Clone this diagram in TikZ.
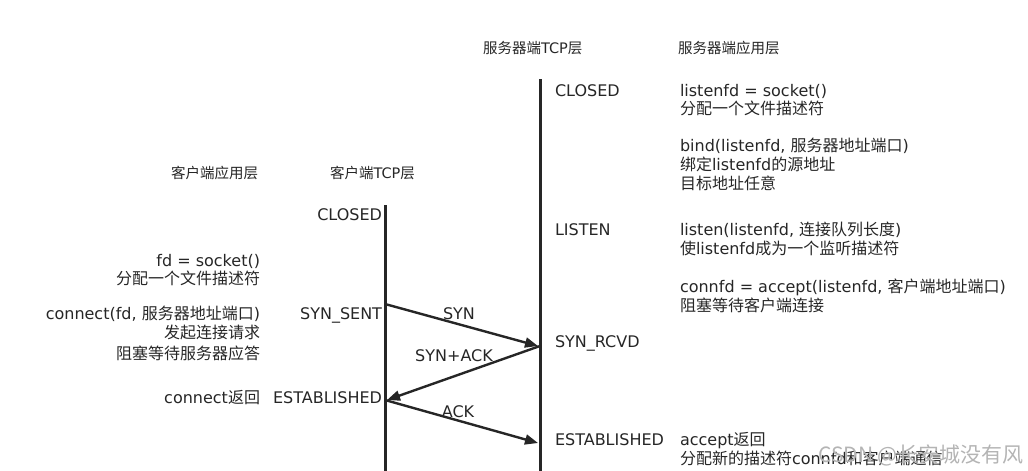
\documentclass[tikz,border=0pt]{standalone}
\usepackage{fontspec}
\setmainfont{DejaVu Sans}
\newfontfamily\cjk{Noto Sans CJK SC}
\newcommand\zh[1]{{\cjk #1}}
\usetikzlibrary{arrows.meta}
\definecolor{ink}{HTML}{262626}
\definecolor{wm}{HTML}{B4B4B4}
\tikzset{
  txt/.style={inner sep=0pt, outer sep=0pt, text=ink, font=\fontsize{16}{19}\selectfont},
  hdr/.style={txt, font=\fontsize{14.5}{17}\selectfont},
  lt/.style={anchor=base west},
  rt/.style={anchor=base east},
  ct/.style={anchor=base},
  lifeline/.style={draw=ink, line width=3pt},
  msg/.style={draw=ink, line width=2.4pt, -{Triangle[length=13pt,width=10pt]}}
}
\begin{document}
\begin{tikzpicture}[x=1pt, y=-1pt]
\useasboundingbox (0,0) rectangle (1028,471);
% headers
\node[hdr, lt] (hsTCP) at (483,53) {\zh{服务器端}TCP\zh{层}};
\node[hdr, lt] (hsApp) at (678,53) {\zh{服务器端应用层}};
\node[hdr, rt] (hcApp) at (258,178) {\zh{客户端应用层}};
\node[hdr, lt] (hcTCP) at (330,178) {\zh{客户端}TCP\zh{层}};
% lifelines
\coordinate (cTop) at (385,205);
\coordinate (cBot) at (385,471);
\coordinate (sTop) at (540,79);
\coordinate (sBot) at (540,471);
\draw[lifeline] (cTop) -- (cBot);
\draw[lifeline] (sTop) -- (sBot);
% server TCP states
\node[txt, lt] (sClosed) at (555,96) {CLOSED};
\node[txt, lt] (sListen) at (555,235) {LISTEN};
\node[txt, lt] (sRcvd) at (555,347) {SYN\_RCVD};
\node[txt, lt] (sEst) at (555,445) {ESTABLISHED};
% server app
\node[txt, lt] (sa1) at (680,96) {listenfd = socket()};
\node[txt, lt] (sa2) at (680,114) {\zh{分配一个文件描述符}};
\node[txt, lt] (sa3) at (680,151) {bind(listenfd, \zh{服务器地址端口})};
\node[txt, lt] (sa4) at (680,170) {\zh{绑定}listenfd\zh{的源地址}};
\node[txt, lt] (sa5) at (680,189) {\zh{目标地址任意}};
\node[txt, lt] (sa6) at (680,235) {listen(listenfd, \zh{连接队列长度})};
\node[txt, lt] (sa7) at (680,254) {\zh{使}listenfd\zh{成为一个监听描述符}};
\node[txt, lt] (sa8) at (680,292) {connfd = accept(listenfd, \zh{客户端地址端口})};
\node[txt, lt] (sa9) at (680,311) {\zh{阻塞等待客户端连接}};
\node[txt, lt] (sa10) at (680,445) {accept\zh{返回}};
\node[txt, lt] (sa11) at (680,464) {\zh{分配新的描述符}connfd\zh{和客户端通信}};
% client app
\node[txt, rt] (ca1) at (260,266) {fd = socket()};
\node[txt, rt] (ca2) at (260,284) {\zh{分配一个文件描述符}};
\node[txt, rt] (ca3) at (260,319) {connect(fd, \zh{服务器地址端口})};
\node[txt, rt] (ca4) at (260,338) {\zh{发起连接请求}};
\node[txt, rt] (ca5) at (260,359) {\zh{阻塞等待服务器应答}};
\node[txt, rt] (ca6) at (260,403) {connect\zh{返回}};
% client TCP states
\node[txt, rt] (cClosed) at (382,220) {CLOSED};
\node[txt, rt] (cSent) at (382,319) {SYN\_SENT};
\node[txt, rt] (cEst) at (382,403) {ESTABLISHED};
% messages
\coordinate (m1s) at (385,304);
\coordinate (m1e) at (538,346);
\coordinate (m2s) at (540,346);
\coordinate (m2e) at (387,400);
\coordinate (m3s) at (385,400);
\coordinate (m3e) at (538,443);
\draw[msg] (m1s) -- (m1e);
\draw[msg] (m2s) -- (m2e);
\draw[msg] (m3s) -- (m3e);
\node[txt, ct] (lSyn) at (459,319) {SYN};
\node[txt, ct] (lSynAck) at (454,361) {SYN+ACK};
\node[txt, ct] (lAck) at (458,417) {ACK};
% watermark
\node[inner sep=0pt, anchor=base east, text=wm, font=\cjk\fontsize{21}{24}\selectfont] (wmark) at (1024,462) {CSDN @长安城没有风};
\end{tikzpicture}
\end{document}
